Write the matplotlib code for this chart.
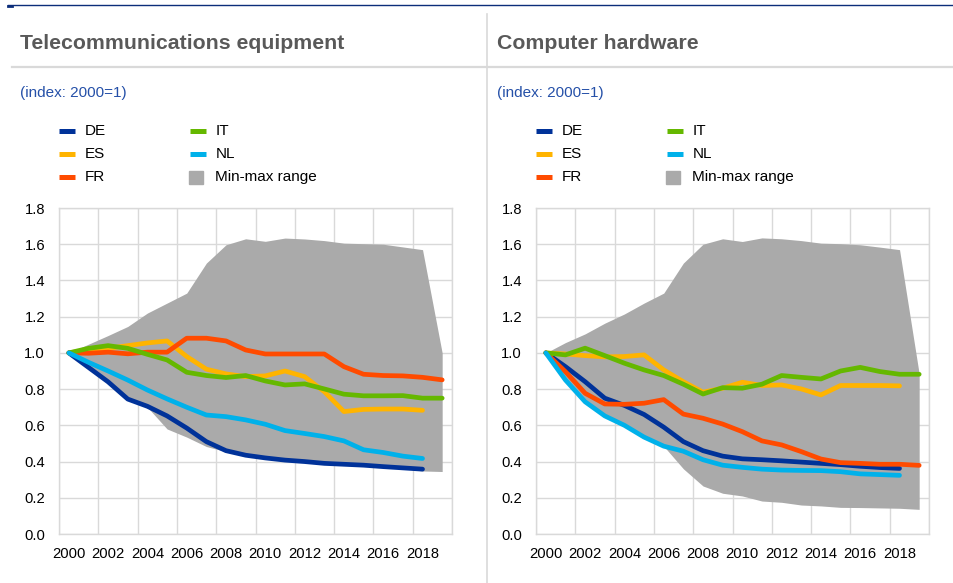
import numpy as np
import matplotlib
matplotlib.use("Agg")
import matplotlib.pyplot as plt
from matplotlib.lines import Line2D
from matplotlib.patches import Rectangle

plt.rcParams['font.family'] = ['Liberation Sans', 'DejaVu Sans']

nan = np.nan
years = list(range(2000, 2020))
tick_years = list(range(2000, 2019, 2))

# Telecommunications equipment (index 2000=1)
tel_de = [1.0, 0.92, 0.84, 0.745, 0.705, 0.652, 0.585, 0.51, 0.46, 0.435, 0.42, 0.408, 0.40, 0.39, 0.385, 0.38, 0.372, 0.365, 0.358, nan]
tel_es = [1.0, 1.016, 1.025, 1.04, 1.055, 1.066, 0.98, 0.91, 0.884, 0.869, 0.873, 0.90, 0.869, 0.786, 0.676, 0.688, 0.69, 0.69, 0.683, nan]
tel_fr = [1.0, 0.998, 1.004, 0.995, 1.004, 1.004, 1.081, 1.081, 1.066, 1.016, 0.994, 0.994, 0.994, 0.994, 0.924, 0.882, 0.875, 0.873, 0.865, 0.851]
tel_it = [1.0, 1.025, 1.04, 1.025, 0.992, 0.961, 0.893, 0.875, 0.864, 0.875, 0.845, 0.823, 0.829, 0.801, 0.772, 0.763, 0.763, 0.764, 0.75, 0.75]
tel_nl = [1.0, 0.948, 0.90, 0.85, 0.795, 0.746, 0.70, 0.657, 0.648, 0.63, 0.606, 0.571, 0.555, 0.538, 0.514, 0.465, 0.45, 0.43, 0.417, nan]
tel_max = [1.0, 1.048, 1.096, 1.146, 1.22, 1.275, 1.33, 1.496, 1.597, 1.63, 1.616, 1.634, 1.629, 1.62, 1.606, 1.603, 1.60, 1.585, 1.57, 1.0]
tel_min = [1.0, 0.92, 0.84, 0.745, 0.70, 0.58, 0.535, 0.483, 0.455, 0.433, 0.42, 0.408, 0.398, 0.39, 0.384, 0.378, 0.37, 0.362, 0.348, 0.345]

# Computer hardware (index 2000=1)
hw_de = [1.0, 0.924, 0.841, 0.75, 0.71, 0.66, 0.59, 0.51, 0.46, 0.43, 0.415, 0.41, 0.404, 0.397, 0.39, 0.383, 0.374, 0.367, 0.362, nan]
hw_es = [1.0, 0.994, 0.985, 0.978, 0.98, 0.989, 0.906, 0.841, 0.783, 0.805, 0.838, 0.82, 0.823, 0.801, 0.768, 0.82, 0.82, 0.82, 0.818, nan]
hw_fr = [1.0, 0.896, 0.777, 0.718, 0.716, 0.722, 0.742, 0.662, 0.639, 0.607, 0.565, 0.514, 0.492, 0.455, 0.414, 0.394, 0.39, 0.385, 0.385, 0.379]
hw_it = [1.0, 0.989, 1.026, 0.985, 0.943, 0.906, 0.875, 0.827, 0.773, 0.808, 0.805, 0.827, 0.875, 0.865, 0.856, 0.90, 0.92, 0.897, 0.882, 0.882]
hw_nl = [1.0, 0.85, 0.73, 0.652, 0.6, 0.535, 0.485, 0.457, 0.41, 0.38, 0.368, 0.358, 0.353, 0.351, 0.35, 0.344, 0.332, 0.328, 0.324, nan]
hw_max = [1.0, 1.057, 1.105, 1.164, 1.215, 1.275, 1.33, 1.496, 1.60, 1.63, 1.615, 1.635, 1.63, 1.62, 1.606, 1.603, 1.597, 1.584, 1.57, 0.885]
hw_min = [1.0, 0.85, 0.73, 0.652, 0.6, 0.535, 0.485, 0.36, 0.265, 0.225, 0.21, 0.182, 0.175, 0.16, 0.155, 0.147, 0.146, 0.144, 0.142, 0.136]

countries = ["DE", "ES", "FR", "IT", "NL"]
colors = {"DE": "#003299", "ES": "#ffb400", "FR": "#ff4b00", "IT": "#65b800", "NL": "#00b1ea"}
grey = "#aaaaaa"
light = "#d9d9d9"

W, H = 954, 583
fig = plt.figure(figsize=(W / 100, H / 100), dpi=100)


def px(x, y):
    # pixel position (from top left) -> figure fraction
    return x / W, 1 - y / H


# frame lines
fig.add_artist(Line2D([8 / W, 1], [1 - 5 / H] * 2, color="#0b2d7a", lw=1.0))
fig.add_artist(Line2D([8 / W, 12 / W], [1 - 6 / H] * 2, color="#0b2d7a", lw=2.0))
fig.add_artist(Line2D([12 / W, 1], [1 - 67 / H] * 2, color=light, lw=1.6))
fig.add_artist(Line2D([487 / W] * 2, [0, 1 - 14 / H], color=light, lw=1.2))


def draw_panel(x0, ax_left, title, series, vmin, vmax):
    fig.text(*px(x0, 49), title, fontsize=15.3, fontweight="bold", color="#595959", va="baseline")
    fig.text(*px(x0, 97), "(index: 2000=1)", fontsize=11, color="#2550a8", va="baseline")

    # legend
    lx = ax_left
    items = [("DE", 0, 0), ("ES", 0, 1), ("FR", 0, 2), ("IT", 1, 0), ("NL", 1, 1)]
    for name, col, row in items:
        y = 131 + row * 23
        mx = lx + col * 131
        fig.add_artist(Line2D([mx / W, (mx + 16) / W], [1 - y / H] * 2, color=colors[name], lw=3.6,
                              solid_capstyle="butt"))
        fig.text(*px(mx + 26, y), name, fontsize=11, color="black", va="center")
    sx = lx + 130
    fig.add_artist(Rectangle(px(sx, 184), 14 / W, 13 / H, color=grey, transform=fig.transFigure))
    fig.text(*px(sx + 26, 177), "Min-max range", fontsize=11, color="black", va="center")

    ax = fig.add_axes([ax_left / W, 49 / H, 393 / W, 326 / H])
    ax.fill_between(years, vmin, vmax, color=grey, lw=0, zorder=1)
    for name in countries:
        ax.plot(years, series[name], color=colors[name], lw=3.4, zorder=2,
                solid_capstyle="round", solid_joinstyle="round")

    ax.set_xlim(1999.5, 2019.5)
    ax.set_ylim(0, 1.8)
    ax.set_xticks(np.arange(1999.5, 2020, 2), minor=False)
    ax.set_xticklabels([])
    ax.set_xticks(tick_years, minor=True)
    ax.set_xticklabels([str(y) for y in tick_years], minor=True)
    ax.set_yticks(np.arange(0, 1.81, 0.2))
    ax.set_yticklabels(["%.1f" % v for v in np.arange(0, 1.81, 0.2)])
    ax.tick_params(axis="both", which="both", length=0, labelsize=10.6, colors="black")
    ax.tick_params(axis="x", which="minor", pad=9)
    ax.tick_params(axis="y", pad=10)
    ax.grid(True, which="major", color=light, lw=1.0, zorder=0)
    ax.set_axisbelow(True)
    for s in ax.spines.values():
        s.set_color(light)
        s.set_linewidth(1.0)
    return ax


draw_panel(20, 59, "Telecommunications equipment",
           {"DE": tel_de, "ES": tel_es, "FR": tel_fr, "IT": tel_it, "NL": tel_nl}, tel_min, tel_max)
draw_panel(497, 536, "Computer hardware",
           {"DE": hw_de, "ES": hw_es, "FR": hw_fr, "IT": hw_it, "NL": hw_nl}, hw_min, hw_max)

fig.savefig("out.png", dpi=100)
